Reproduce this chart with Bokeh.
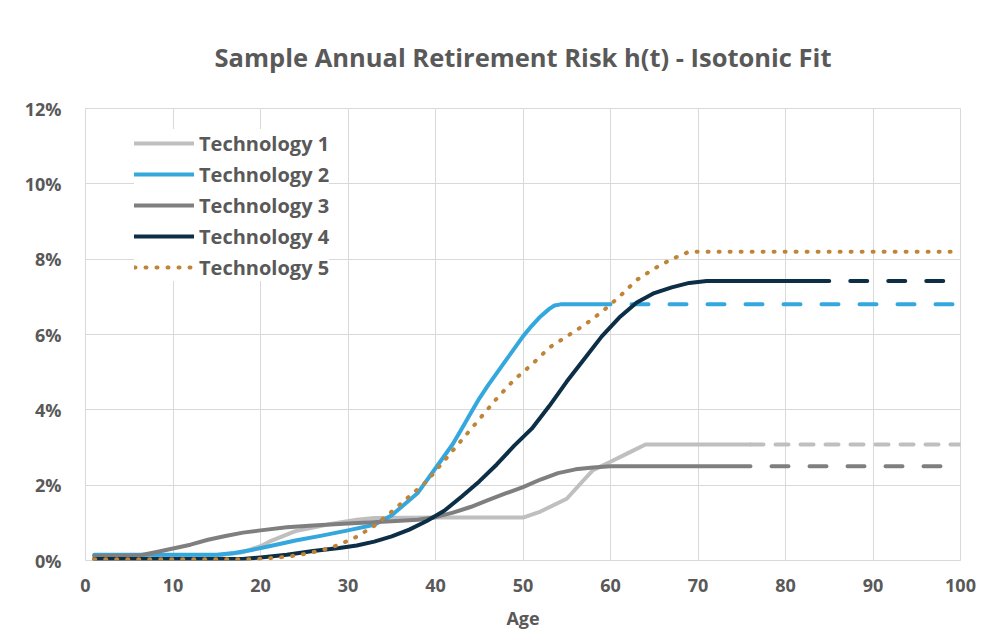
from bokeh.plotting import figure
from bokeh.models import Legend, LegendItem, PrintfTickFormatter, FixedTicker, Range1d
from bokeh.embed import file_html
from bokeh.resources import INLINE

FONT = "Open Sans"
TEXT = "#595959"
GRID = "#D9D9D9"

title_text = "Sample Annual Retirement Risk h(t) - Isotonic Fit"
x_label = "Age"
names = ["Technology 1", "Technology 2", "Technology 3", "Technology 4", "Technology 5"]
colors = ["#BFBFBF", "#33A7DE", "#7F7F7F", "#0C2E46", "#C08437"]
x_ticks = [0, 10, 20, 30, 40, 50, 60, 70, 80, 90, 100]
y_ticks = [0, 2, 4, 6, 8, 10, 12]

# Technology 1 (values in %)
t1_age = [1, 15, 18, 20, 21, 24, 28, 31, 33, 40, 45, 50, 52, 55, 57, 58, 60, 62, 64, 76]
t1_val = [0.12, 0.13, 0.22, 0.38, 0.5, 0.78, 0.97, 1.08, 1.13, 1.14, 1.14, 1.14, 1.3, 1.64, 2.15, 2.4, 2.62, 2.85, 3.08, 3.08]
t1_ext_age = [76, 100]
t1_ext_val = [3.08, 3.08]

# Technology 2
t2_age = [1, 15, 17, 19, 21, 24, 27, 30, 33, 35, 36, 38, 40, 42, 43, 44, 45, 46, 48, 50, 51, 52, 53, 53.6, 54.3, 60]
t2_val = [0.15, 0.15, 0.2, 0.28, 0.38, 0.53, 0.66, 0.8, 0.95, 1.2, 1.4, 1.8, 2.45, 3.1, 3.5, 3.9, 4.3, 4.65, 5.3, 5.95, 6.23, 6.48, 6.68, 6.77, 6.8, 6.8]
t2_ext_age = [60, 100]
t2_ext_val = [6.8, 6.8]

# Technology 3
t3_age = [1, 6, 8, 10, 12, 14, 16, 18, 20, 23, 26, 30, 35, 38, 40, 42, 44, 46, 48, 50, 52, 54, 56, 58, 60, 76]
t3_val = [0.12, 0.13, 0.22, 0.32, 0.42, 0.55, 0.65, 0.74, 0.8, 0.88, 0.93, 0.98, 1.04, 1.08, 1.15, 1.27, 1.42, 1.6, 1.78, 1.95, 2.15, 2.32, 2.42, 2.47, 2.5, 2.5]
t3_ext_age = [76, 100]
t3_ext_val = [2.5, 2.5]

# Technology 4
t4_age = [1, 18, 20, 23, 26, 29, 31, 33, 35, 37, 39, 41, 43, 45, 47, 49, 51, 53, 55, 57, 59, 61, 63, 65, 67, 69, 71, 85]
t4_val = [0.04, 0.04, 0.08, 0.15, 0.25, 0.33, 0.4, 0.5, 0.64, 0.82, 1.05, 1.32, 1.7, 2.1, 2.55, 3.05, 3.5, 4.1, 4.75, 5.35, 5.95, 6.45, 6.85, 7.1, 7.25, 7.37, 7.42, 7.42]
t4_ext_age = [85, 100]
t4_ext_val = [7.42, 7.42]

# Technology 5
t5_age = [1, 19, 21, 23, 25, 27, 29, 31, 33, 35, 37, 39, 41, 43, 45, 47, 49, 51, 53, 55, 57, 59, 61, 63, 65, 67, 69, 100]
t5_val = [0.03, 0.03, 0.06, 0.1, 0.17, 0.27, 0.42, 0.63, 0.92, 1.3, 1.7, 2.1, 2.65, 3.2, 3.75, 4.3, 4.8, 5.2, 5.65, 5.95, 6.25, 6.6, 7.0, 7.45, 7.75, 8.0, 8.2, 8.2]

p = figure(
    frame_width=875, frame_height=452,
    min_border_left=85, min_border_right=26, min_border_top=108, min_border_bottom=72,
    x_range=Range1d(0, 100), y_range=Range1d(0, 12),
    output_backend="svg", toolbar_location=None, tools="",
    background_fill_color="white", border_fill_color="white",
)

p.title.text = title_text
p.title.align = "center"
p.title.vertical_align = "top"
p.title.text_font = FONT
p.title.text_font_size = "25.5px"
p.title.text_font_style = "bold"
p.title.text_color = TEXT
p.title.standoff = 66

p.outline_line_color = GRID
p.outline_line_width = 1

for ax in (p.xaxis[0], p.yaxis[0]):
    ax.axis_line_color = None
    ax.major_tick_line_color = None
    ax.minor_tick_line_color = None
    ax.major_tick_out = 0
    ax.major_tick_in = 0
    ax.minor_tick_out = 0
    ax.major_label_text_font = FONT
    ax.major_label_text_font_size = "18px"
    ax.major_label_text_font_style = "bold"
    ax.major_label_text_color = TEXT

p.xaxis.ticker = FixedTicker(ticks=x_ticks)
p.yaxis.ticker = FixedTicker(ticks=y_ticks)
p.yaxis.formatter = PrintfTickFormatter(format="%d%%")
p.xaxis.major_label_standoff = 18
p.yaxis.major_label_standoff = 24
p.xaxis.axis_label = x_label
p.xaxis.axis_label_text_font = FONT
p.xaxis.axis_label_text_font_size = "18px"
p.xaxis.axis_label_text_font_style = "bold"
p.xaxis.axis_label_text_color = TEXT
p.xaxis.axis_label_standoff = 11

p.xgrid.grid_line_color = GRID
p.ygrid.grid_line_color = GRID
p.xgrid.grid_line_width = 1
p.ygrid.grid_line_width = 1

LW = 4
r1 = p.line(t1_age, t1_val, line_color=colors[0], line_width=LW, line_cap="round", line_join="round")
p.line(t1_ext_age, t1_ext_val, line_color=colors[0], line_width=LW, line_cap="round", line_dash="13 12", line_dash_offset=0)
r2 = p.line(t2_age, t2_val, line_color=colors[1], line_width=LW, line_cap="round", line_join="round")
p.line(t2_ext_age, t2_ext_val, line_color=colors[1], line_width=LW, line_cap="round", line_dash="17 21", line_dash_offset=17)
r3 = p.line(t3_age, t3_val, line_color=colors[2], line_width=LW, line_cap="round", line_join="round")
p.line(t3_ext_age, t3_ext_val, line_color=colors[2], line_width=LW, line_cap="round", line_dash="17 21", line_dash_offset=17)
r4 = p.line(t4_age, t4_val, line_color=colors[3], line_width=LW, line_cap="round", line_join="round")
p.line(t4_ext_age, t4_ext_val, line_color=colors[3], line_width=LW, line_cap="round", line_dash="17 21", line_dash_offset=17)
r5 = p.line(t5_age, t5_val, line_color=colors[4], line_width=LW, line_cap="round", line_join="round", line_dash="1 10")

legend = Legend(
    items=[LegendItem(label=n, renderers=[r]) for n, r in zip(names, [r1, r2, r3, r4, r5])],
    location=(49, 279),
    orientation="vertical",
    glyph_width=60, glyph_height=28, label_height=28, label_standoff=5,
    spacing=3, padding=5, margin=0,
    label_text_font=FONT, label_text_font_size="20px", label_text_font_style="bold",
    label_text_color=TEXT,
    border_line_color=None, background_fill_color="white", background_fill_alpha=1.0,
)
p.add_layout(legend, "center")

open("out.html", "w").write(file_html(p, INLINE))
